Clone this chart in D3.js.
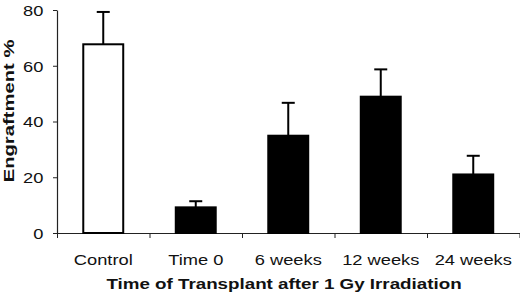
<!DOCTYPE html>
<html>
<head>
<meta charset="utf-8">
<script src="https://cdn.jsdelivr.net/npm/d3@7"></script>
<style>
  body { margin: 0; background: #fff; }
  text { font-family: "Liberation Sans", Arial, sans-serif; fill: #111; }
</style>
</head>
<body>
<script>
var categories = ['Control', 'Time 0', '6 weeks', '12 weeks', '24 weeks'];
var values = [67.7, 9.2, 34.9, 48.9, 21.0];
var errors = [11.6, 2.2, 11.8, 9.8, 6.7];
var fills = ['#fff', '#000', '#000', '#000', '#000'];
var yTicks = [0, 20, 40, 60, 80];

var width = 520, height = 299;
var plotLeft = 57, plotRight = 519.5, plotTop = 10, plotBottom = 233;
var stretch = 1.22;

var data = categories.map(function(c, i) {
  return { name: c, value: values[i], err: errors[i], fill: fills[i] };
});

var svg = d3.select('body').append('svg')
  .attr('width', width)
  .attr('height', height);

var x = d3.scaleBand()
  .domain(categories)
  .range([plotLeft, plotRight])
  .paddingInner(0.568)
  .paddingOuter(0.284);

var slot = d3.scaleLinear().domain([0, categories.length]).range([plotLeft, plotRight]);

var y = d3.scaleLinear().domain([0, 80]).range([plotBottom, plotTop]);

// y axis
var gy = svg.append('g')
  .attr('transform', 'translate(' + plotLeft + ',0)')
  .call(d3.axisLeft(y).tickValues(yTicks).tickSize(4).tickSizeOuter(0));
gy.select('.domain').attr('stroke', '#222').attr('stroke-width', 1.2);
gy.selectAll('.tick line').attr('stroke', '#222');
gy.selectAll('.tick text')
  .attr('x', -11.2)
  .attr('dy', '0.36em')
  .attr('transform', 'scale(' + stretch + ',1)')
  .style('font-size', '15px');

// x axis: boundary ticks
var gx = svg.append('g')
  .attr('transform', 'translate(0,' + plotBottom + ')')
  .call(d3.axisBottom(slot).tickValues(d3.range(categories.length + 1)).tickSize(5).tickSizeOuter(0).tickFormat(''));
gx.select('.domain').attr('stroke', '#222').attr('stroke-width', 1.2);
gx.selectAll('.tick line').attr('stroke', '#222');

// x labels
var gl = svg.append('g')
  .attr('transform', 'translate(0,' + plotBottom + ')')
  .call(d3.axisBottom(x).tickSize(0));
gl.select('.domain').remove();
gl.selectAll('.tick text')
  .attr('y', 32.5)
  .attr('dy', 0)
  .attr('transform', 'scale(' + stretch + ',1)')
  .style('font-size', '15px');

// bars
svg.selectAll('.bar')
  .data(data)
  .enter().append('rect')
  .attr('class', 'bar')
  .attr('x', function(d) { return x(d.name); })
  .attr('width', x.bandwidth())
  .attr('y', function(d) { return y(d.value); })
  .attr('height', function(d) { return y(0) - y(d.value); })
  .attr('fill', function(d) { return d.fill; })
  .attr('stroke', '#000')
  .attr('stroke-width', 2);

// error bars (upper only)
var eb = svg.selectAll('.err')
  .data(data)
  .enter().append('g')
  .attr('class', 'err')
  .attr('stroke', '#000')
  .attr('stroke-width', 2);

eb.append('line')
  .attr('x1', function(d) { return x(d.name) + x.bandwidth() / 2; })
  .attr('x2', function(d) { return x(d.name) + x.bandwidth() / 2; })
  .attr('y1', function(d) { return y(d.value); })
  .attr('y2', function(d) { return y(d.value + d.err); });

eb.append('line')
  .attr('x1', function(d) { return x(d.name) + x.bandwidth() / 2 - 6.5; })
  .attr('x2', function(d) { return x(d.name) + x.bandwidth() / 2 + 6.5; })
  .attr('y1', function(d) { return y(d.value + d.err); })
  .attr('y2', function(d) { return y(d.value + d.err); });

// axis titles
svg.append('text')
  .attr('transform', 'translate(284,289) scale(' + stretch + ',1)')
  .attr('text-anchor', 'middle')
  .style('font-size', '15.4px')
  .style('font-weight', 'bold')
  .text('Time of Transplant after 1 Gy Irradiation');

svg.append('text')
  .attr('transform', 'translate(14,111) rotate(-90) scale(1.35,1)')
  .attr('text-anchor', 'middle')
  .style('font-size', '15px')
  .style('font-weight', 'bold')
  .text('Engraftment %');
</script>
</body>
</html>
